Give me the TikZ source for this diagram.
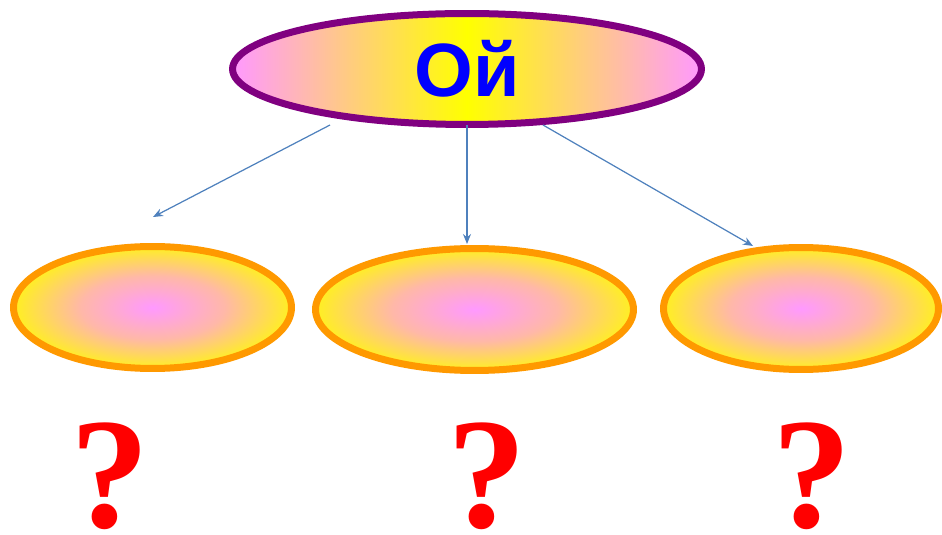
\documentclass[tikz,border=0pt]{standalone}
\usepackage{fontspec}
\usetikzlibrary{shapes.geometric,arrows.meta}
\newfontfamily\ojfont{Liberation Sans}
\newfontfamily\qmfont{Liberation Serif}
\definecolor{ojpurple}{HTML}{800080}
\definecolor{ojorange}{HTML}{FF9900}
\definecolor{ojpink}{HTML}{FF99FF}
\definecolor{ojpeach}{HTML}{FFB8A8}
\definecolor{ojyellow}{HTML}{FFFF00}
\definecolor{ojedge}{HTML}{FFF020}
\definecolor{ojblue}{HTML}{0000FF}
\definecolor{arrowblue}{HTML}{4F81BD}
\pgfdeclareradialshading{ovalglow}{\pgfpoint{0bp}{0bp}}{color(0bp)=(ojpink); color(13bp)=(ojpeach); color(25bp)=(ojedge); color(50bp)=(ojedge)}
\tikzset{
	topoval/.style={ ellipse, draw=ojpurple, line width=0.14cm, inner sep=0pt,
		left color=ojpink, right color=ojpink, middle color=ojyellow,
		minimum width=9.38cm, minimum height=2.22cm },
	subovalbox/.style={ ellipse, draw=ojorange, line width=0.14cm, inner sep=0pt,
		shading=ovalglow, minimum height=2.44cm },
	qmark/.style={ anchor=base, inner sep=0pt, text=red,
		font=\qmfont\bfseries\fontsize{90}{90}\selectfont },
	branch/.style={ draw=arrowblue, line width=0.7pt, -{Stealth[length=0.2cm, width=0.16cm]} }
}
\begin{document}
\begin{tikzpicture}[ x=0.02cm, y=0.02cm ]
	\useasboundingbox (0,0) rectangle (942,534);

	\node [ topoval ] (oj) at (467,465)
		{ \ojfont\bfseries\fontsize{43}{43}\selectfont\color{ojblue}Ой };

	\node [ subovalbox, minimum width=5.56cm ] (leftoval) at (152.5,226.5) {};
	\node [ subovalbox, minimum width=6.36cm ] (midoval) at (474.5,224.5) {};
	\node [ subovalbox, minimum width=5.5cm ] (rightoval) at (801,225.5) {};

	\node [ qmark ] (q1) at (110,7) {?};
	\node [ qmark ] (q2) at (487,7) {?};
	\node [ qmark ] (q3) at (812,7) {?};

	\coordinate (s1) at (330,409);
	\coordinate (s2) at (467,409);
	\coordinate (s3) at (543,409);
	\coordinate (e1) at (153,317);
	\coordinate (e2) at (467,290);
	\coordinate (e3) at (753,288);

	\draw [ branch ] (s1)--(e1);
	\draw [ branch ] (s2)--(e2);
	\draw [ branch ] (s3)--(e3);
\end{tikzpicture}
\end{document}
